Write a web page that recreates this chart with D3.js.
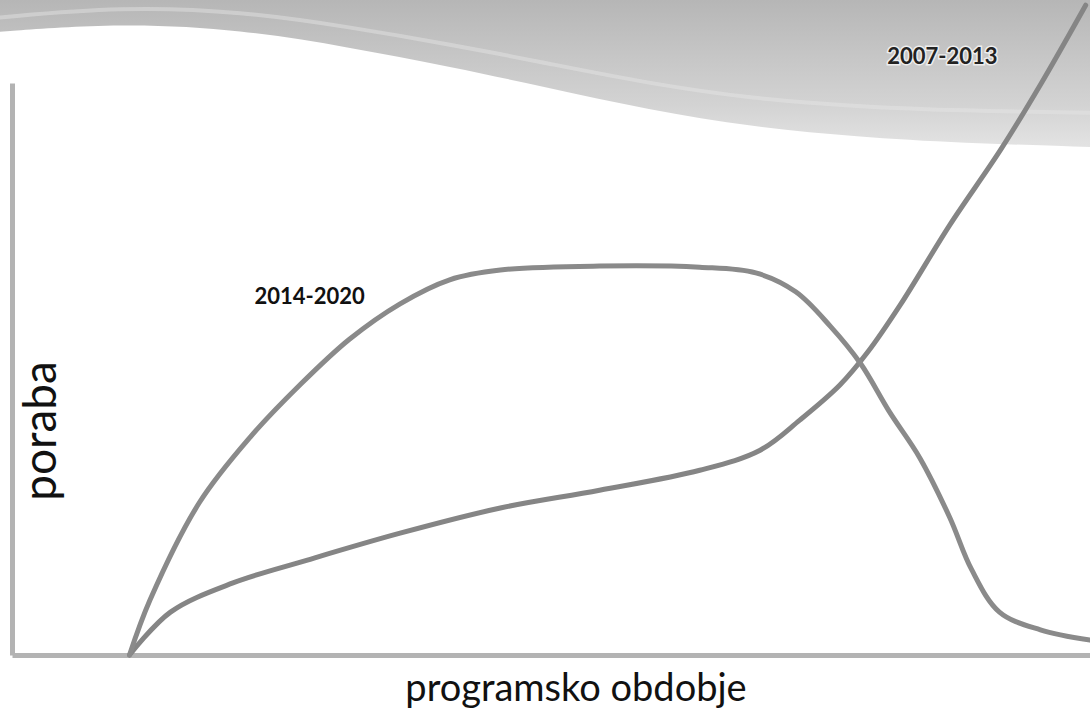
<!DOCTYPE html>
<html><head><meta charset="utf-8">
<script src="https://cdn.jsdelivr.net/npm/d3@7"></script>
<style>html,body{margin:0;padding:0;background:#fff;overflow:hidden}</style>
</head><body>
<svg id="c" width="1090" height="719"></svg>
<script>
// progress through the programming period (0-100) and spending (0-100)
const progress2014 = [10.9, 12.8, 17.4, 22.1, 26.7, 31.3, 36.0, 40.6, 45.3, 54.5, 63.8, 69.0, 72.7, 75.9, 78.7, 81.4, 84.2, 87.0, 89.0, 91.6, 95.4, 100];
const spend2014    = [0, 9.6, 26.7, 38.1, 47.2, 55.2, 61.4, 65.6, 67.3, 68.0, 67.8, 66.8, 63.5, 57.5, 51.0, 42.5, 34.5, 24.0, 15.0, 7.5, 4.4, 2.6];
const progress2007 = [10.9, 14.7, 20.5, 27.4, 36.0, 45.3, 54.5, 63.8, 69.4, 73.1, 76.8, 79.4, 82.4, 87.0, 91.7, 95.4, 99.6];
const spend2007    = [0, 7.5, 12.6, 16.6, 21.3, 25.7, 28.8, 32.3, 35.8, 41.1, 47.2, 53.0, 61.2, 75.2, 88.3, 99.7, 113.6];
const seriesLabels = ["2014-2020", "2007-2013"];
const axisTitles = ["programsko obdobje", "poraba"];
// decorative wave edge (in chart units)
const waveX = [-1.5, 10.2, 21.4, 31.1, 40.8, 49.4, 59.1, 68.7, 78.4, 88.0, 100.5];
const waveY = [108.9, 110.5, 109.3, 106.3, 102.8, 99.3, 95.3, 92.3, 90.6, 89.5, 88.8];

const svg = d3.select("#c");
const x = d3.scaleLinear().domain([0, 100]).range([12, 1090]);
const y = d3.scaleLinear().domain([0, 100]).range([655, 83]);

// background wave band
const defs = svg.append("defs");
const g = defs.append("linearGradient").attr("id", "bg").attr("gradientUnits", "userSpaceOnUse")
  .attr("x1", 0).attr("y1", 0).attr("x2", 0).attr("y2", 150);
g.append("stop").attr("offset", 0).attr("stop-color", "#b6b6b6");
g.append("stop").attr("offset", 0.35).attr("stop-color", "#c5c5c5");
g.append("stop").attr("offset", 0.7).attr("stop-color", "#d3d3d3");
g.append("stop").attr("offset", 1).attr("stop-color", "#e4e4e4");
const waveData = waveX.map((d, i) => [d, waveY[i]]);
const topY = y.invert(0);
const waveArea = d3.area().x(d => x(d[0])).y0(() => y(topY)).y1(d => y(d[1])).curve(d3.curveBasis);
svg.append("path").datum(waveData).attr("d", waveArea).attr("fill", "url(#bg)");
// faint lighter streak
const streak = waveX.map((d, i) => [d, waveY[i] + 2.5 + i * 0.35]);
svg.append("path").datum(streak)
  .attr("d", d3.line().x(d => x(d[0])).y(d => y(d[1])).curve(d3.curveBasis))
  .attr("fill", "none").attr("stroke", "#e6e6e6").attr("stroke-width", 4).attr("opacity", 0.45);

// axes
const xAxis = svg.append("g").attr("transform", `translate(0,${y(0)})`)
  .call(d3.axisBottom(x).tickValues([]).tickSizeOuter(0));
const yAxis = svg.append("g").attr("transform", `translate(${x(0)},0)`)
  .call(d3.axisLeft(y).tickValues([]).tickSizeOuter(0));
[xAxis, yAxis].forEach(a => a.select(".domain").attr("stroke", "#b3b3b3").attr("stroke-width", 5));

// curves
const line = d3.line().x(d => x(d[0])).y(d => y(d[1])).curve(d3.curveCatmullRom.alpha(0.5));
const d2014 = progress2014.map((d, i) => [d, spend2014[i]]);
const d2007 = progress2007.map((d, i) => [d, spend2007[i]]);
svg.append("path").datum(d2007).attr("d", line)
  .attr("fill", "none").attr("stroke", "#858585").attr("stroke-width", 5).attr("stroke-linecap", "round");
svg.append("path").datum(d2014).attr("d", line)
  .attr("fill", "none").attr("stroke", "#8a8a8a").attr("stroke-width", 5).attr("stroke-linecap", "round");

// series labels
svg.append("text").attr("x", x(22.5)).attr("y", y(61.3)).text(seriesLabels[0])
  .attr("font-family", "Lato, 'Open Sans', sans-serif").attr("font-weight", "bold").attr("font-size", 22).attr("fill", "#111");
svg.append("text").attr("x", x(81.2)).attr("y", y(103.3)).text(seriesLabels[1])
  .attr("font-family", "Lato, 'Open Sans', sans-serif").attr("font-weight", "bold").attr("font-size", 22).attr("fill", "#222")
  .attr("stroke", "#eeeeee").attr("stroke-width", 3).attr("paint-order", "stroke");

// axis titles
svg.append("text").attr("x", 576).attr("y", 701).attr("text-anchor", "middle").text(axisTitles[0])
  .attr("font-family", "Lato, 'Open Sans', sans-serif").attr("font-size", 38).attr("fill", "#111");
svg.append("text").attr("transform", "translate(56,431) rotate(-90)").attr("text-anchor", "middle").text(axisTitles[1])
  .attr("font-family", "Lato, 'Open Sans', sans-serif").attr("font-size", 46).attr("fill", "#111");
</script>
</body></html>
